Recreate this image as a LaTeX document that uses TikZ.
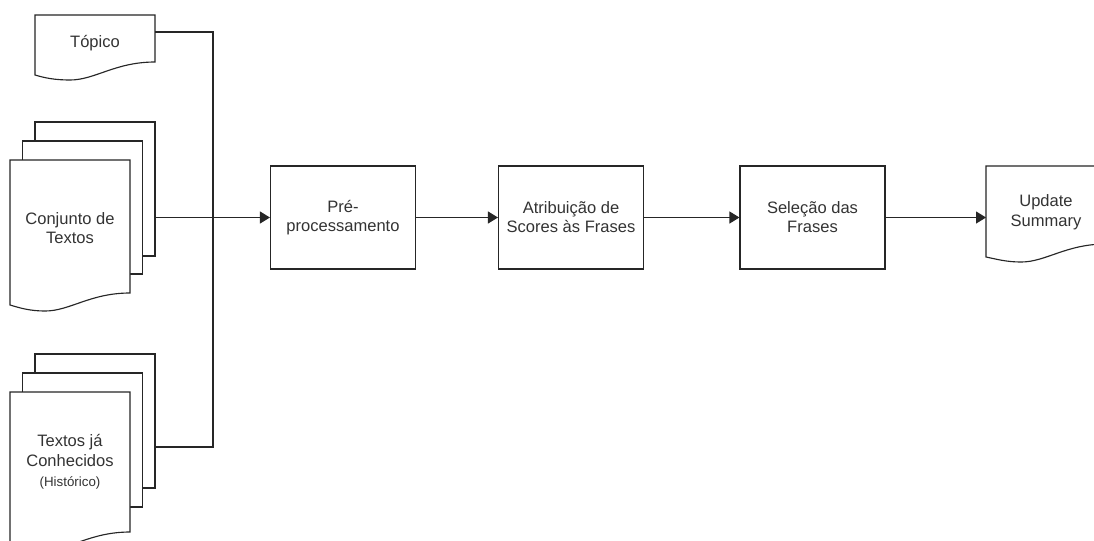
\documentclass[tikz,border=0pt]{standalone}
\usepackage{fontspec}
\setmainfont{Liberation Sans}
\usetikzlibrary{arrows.meta,calc}
\begin{document}
\begin{tikzpicture}[x=0.75pt,y=-0.75pt,
  line/.style={draw=black!85,line width=0.85pt},
  page/.style={line,fill=white},
  conn/.style={line,-{Triangle[length=7.5pt,width=9pt]}},
  body/.style={inner sep=0pt,outer sep=0pt,minimum width=90pt},
  lbl/.style={text=black!80,align=center,font=\fontsize{12.4}{14.8}\selectfont,inner sep=0pt},
  proc/.style={line,fill=white,minimum width=108.75pt,minimum height=77.25pt,inner sep=0pt,
     text=black!80,align=center,font=\fontsize{12.4}{14.3}\selectfont}
]
\useasboundingbox (0,0) rectangle (1094,540);
\fill[white] (0,0) rectangle (1094,540);

% ---------- Topico ----------
\node[body,minimum height=35.25pt] (topico) at (95,38.5) {};
\draw[page] (35,15) -- (155,15) -- (155,62)
  .. controls (115,62) and (95,80) .. (70,80)
  .. controls (55,80) and (45,78) .. (35,75) -- cycle;
\node[lbl] (topicotxt) at (95,43) {Tópico};

% ---------- Conjunto de Textos ----------
\node[page,body,minimum height=100.5pt] (conjback) at (95,189) {};
\node[page,body,minimum height=99.75pt] (conjmid) at (82.5,207.5) {};
\node[body,minimum height=99.75pt] (conjfront) at (70,226.5) {};
\draw[page] (10,160) -- (130,160) -- (130,293)
  .. controls (90,293) and (70,311) .. (45,311)
  .. controls (30,311) and (20,308) .. (10,305) -- cycle;
\node[lbl] (conjtxt) at (70,228) {Conjunto de\\Textos};

% ---------- Textos ja Conhecidos ----------
\node[page,body,minimum height=100.5pt] (histback) at (95,421) {};
\node[page,body,minimum height=100.5pt] (histmid) at (82.5,440) {};
\node[body,minimum height=105pt] (histfront) at (70,462) {};
\draw[page] (10,392) -- (130,392) -- (130,532)
  .. controls (90,532) and (70,550) .. (45,550)
  .. controls (30,550) and (20,547) .. (10,544) -- cycle;
\node[lbl] (histtxt) at (70,462) {Textos já\\Conhecidos\\{\fontsize{10}{12}\selectfont(Histórico)}};

% ---------- Process boxes ----------
\node[proc] (pre) at (343,217.5) {Pré-\\processamento};
\node[proc] (atr) at (571,217.5) {Atribuição de\\Scores às Frases};
\node[proc] (sel) at (812.5,217.5) {Seleção das\\Frases};

% ---------- Update Summary ----------
\node[body,minimum height=58.5pt] (upd) at (1046,205) {};
\draw[page] (986,166) -- (1106,166) -- (1106,244)
  .. controls (1066,244) and (1046,262) .. (1021,262)
  .. controls (1006,262) and (996,259) .. (986,257) -- cycle;
\node[lbl] (updtxt) at (1046,212) {Update\\Summary};

% ---------- Connectors ----------
\coordinate (jt) at (213,32);
\coordinate (jb) at (213,447);
\draw[line] (topico.east |- jt) -- (jt) -- (jb) -- (histback.east |- jb);
\draw[conn] (conjback.east |- pre.west) -- (pre.west);
\draw[conn] (pre) -- (atr);
\draw[conn] (atr) -- (sel);
\draw[conn] (sel.east) -- (upd.west |- sel.east);
\end{tikzpicture}
\end{document}
